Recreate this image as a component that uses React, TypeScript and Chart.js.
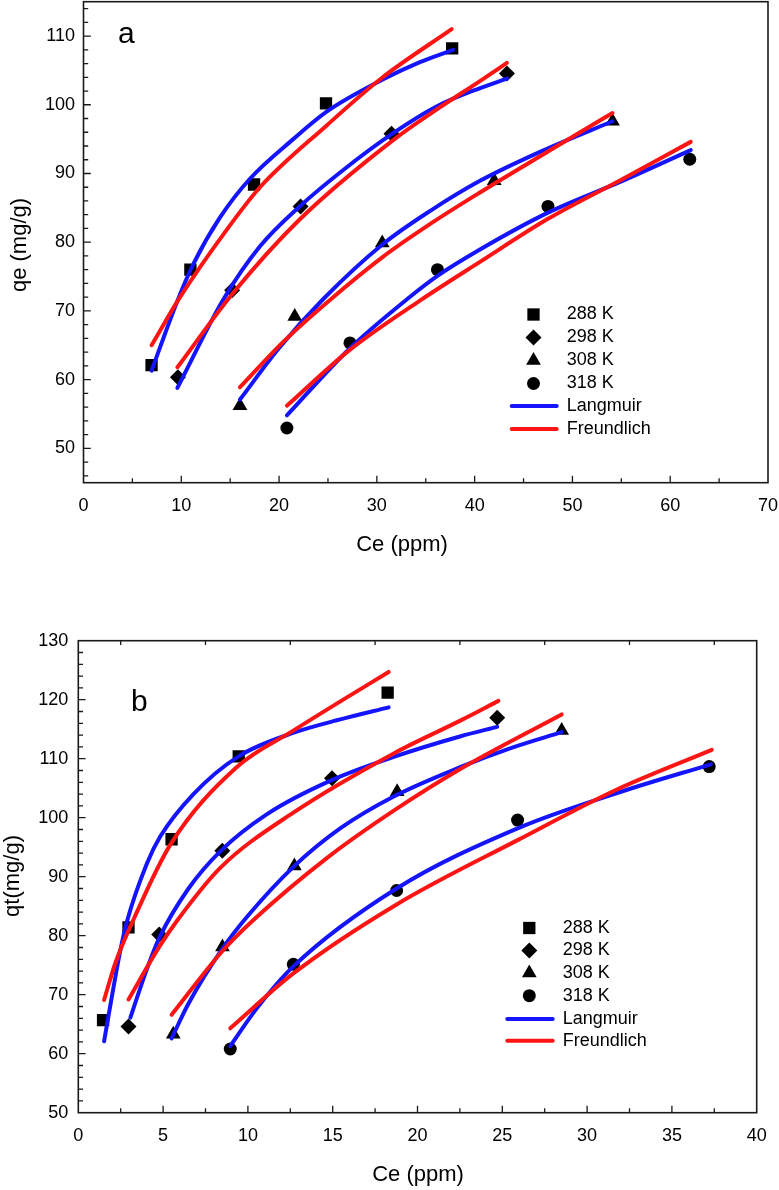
import React, { useEffect, useRef } from 'react';
import { Chart, registerables } from 'chart.js';

Chart.register(...registerables);

const FONT = '"Liberation Sans", Arial, Helvetica, sans-serif';
const BLUE = '#1414ff';
const RED = '#ff1414';

// ---------- shared ----------
const tempLabels = ['288 K', '298 K', '308 K', '318 K'];
const modelLabels = ['Langmuir', 'Freundlich'];
const markerStyles = ['rect', 'rectRot', 'triangle', 'circle'];

// ---------- panel a : qe vs Ce ----------
const aXTicks = [0, 10, 20, 30, 40, 50, 60, 70];
const aYTicks = [50, 60, 70, 80, 90, 100, 110];

const aCe288 = [6.96, 10.93, 17.44, 24.8, 37.7];
const aQe288 = [62.1, 76.0, 88.4, 100.2, 108.2];
const aCe298 = [9.66, 15.2, 22.2, 31.5, 43.3];
const aQe298 = [60.35, 73.0, 85.2, 95.8, 104.55];
const aCe308 = [16.0, 21.6, 30.55, 42.0, 54.1];
const aQe308 = [56.2, 69.2, 79.9, 88.95, 97.6];
const aCe318 = [20.8, 27.25, 36.2, 47.5, 62.0];
const aQe318 = [52.96, 65.34, 76.0, 85.2, 92.07];

const aLangmuir288 = [[6.96, 61.3], [9.53, 71.2], [11.23, 76.8], [13.96, 83.6], [17.0, 89.2], [21.45, 95.0], [24.87, 99.0], [30.65, 103.7], [34.4, 106.2], [37.8, 108.0]];
const aFreundlich288 = [[6.96, 65.0], [9.87, 72.0], [14.64, 81.8], [18.05, 88.0], [24.87, 97.0], [30.5, 103.9], [37.65, 111.0]];
const aLangmuir298 = [[9.6, 58.8], [14.3, 71.66], [18.05, 79.4], [22.1, 85.2], [26.6, 90.55], [31.7, 95.9], [36.1, 99.75], [40.5, 102.4], [43.3, 103.8]];
const aFreundlich298 = [[9.6, 61.8], [15.3, 72.6], [22.1, 83.3], [31.7, 94.9], [36.1, 99.3], [40.5, 103.4], [43.3, 106.1]];
const aLangmuir308 = [[16.0, 57.1], [20.0, 64.6], [24.5, 71.7], [30.6, 79.7], [35.5, 84.6], [40.5, 88.9], [47.4, 93.6], [54.1, 97.6]];
const aFreundlich308 = [[16.0, 58.9], [20.5, 65.6], [25.2, 71.6], [30.55, 77.8], [35.5, 82.7], [40.5, 87.2], [47.5, 93.2], [54.1, 98.8]];
const aLangmuir318 = [[20.8, 54.8], [27.2, 64.5], [33.05, 71.66], [36.2, 75.1], [40.5, 78.9], [47.5, 84.3], [55.0, 88.85], [62.1, 93.4]];
const aFreundlich318 = [[20.8, 56.2], [27.2, 64.3], [34.4, 71.5], [40.5, 77.1], [47.5, 83.4], [55.0, 89.1], [62.1, 94.6]];

// ---------- panel b : qt vs Ce ----------
const bXTicks = [0, 5, 10, 15, 20, 25, 30, 35, 40];
const bYTicks = [50, 60, 70, 80, 90, 100, 110, 120, 130];

const bCe288 = [1.46, 2.96, 5.5, 9.46, 18.24];
const bQt288 = [65.7, 81.4, 96.35, 110.4, 121.2];
const bCe298 = [2.96, 4.77, 8.49, 14.96, 24.7];
const bQt298 = [64.6, 80.2, 94.4, 106.7, 116.95];
const bCe308 = [5.6, 8.5, 12.74, 18.8, 28.5];
const bQt308 = [63.3, 78.1, 91.8, 104.4, 114.8];
const bCe318 = [8.96, 12.68, 18.77, 25.9, 37.2];
const bQt318 = [60.8, 75.15, 87.66, 99.6, 108.66];

const bLangmuir288 = [[1.52, 62.1], [2.0, 70.0], [2.43, 76.8], [2.86, 82.3], [4.04, 92.2], [4.83, 96.8], [6.79, 104.0], [9.45, 110.4], [12.7, 114.4], [15.5, 116.7], [18.3, 118.7]];
const bFreundlich288 = [[1.52, 69.1], [2.2, 75.5], [3.25, 82.7], [5.42, 95.4], [9.35, 108.6], [12.7, 114.8], [15.5, 119.8], [18.3, 124.7]];
const bLangmuir298 = [[3.07, 66.1], [4.0, 74.0], [4.77, 79.6], [6.5, 88.0], [8.37, 94.3], [11.13, 100.6], [14.97, 106.4], [18.6, 110.3], [22.55, 113.8], [24.7, 115.4]];
const bFreundlich298 = [[2.96, 69.2], [4.77, 78.1], [5.81, 82.5], [8.37, 91.5], [12.7, 100.9], [18.6, 110.9], [22.55, 116.5], [24.77, 119.8]];
const bLangmuir308 = [[5.5, 62.6], [6.5, 68.5], [8.5, 77.8], [9.95, 83.2], [12.7, 91.7], [15.5, 98.3], [18.6, 103.6], [22.55, 108.6], [25.5, 111.8], [28.5, 114.5]];
const bFreundlich308 = [[5.5, 66.6], [8.5, 77.4], [10.34, 82.7], [14.67, 93.2], [18.6, 101.2], [22.55, 108.3], [28.5, 117.5]];
const bLangmuir318 = [[8.96, 61.3], [10.5, 67.6], [12.68, 74.8], [18.77, 88.0], [25.9, 98.2], [32.0, 104.4], [37.3, 109.05]];
const bFreundlich318 = [[8.96, 64.3], [12.68, 73.6], [18.77, 85.3], [25.9, 96.2], [31.7, 104.7], [37.35, 111.5]];

// ---------- panel layout settings ----------
const panelA = {
  top: 0, height: 560,
  padding: { left: 0, right: 11, top: 1.7, bottom: 0 },
  yAxisWidth: 83.5, xAxisHeight: 77.3,
  xMin: 0, xMax: 70, xTicks: aXTicks, xMinor: 5,
  yMin: 45, yMax: 115, yTicks: aYTicks, yMinor: 2,
  yLabelPad: 8.5, xLabelPad: 12.5,
  topTicks: false,
  xTitle: 'Ce (ppm)', xTitlePos: [402, 545],
  yTitle: 'qe (mg/g)', yTitlePos: [20, 245],
  letter: 'a', letterPos: [118, 43],
  legend: { markerX: 533.5, textX: 566.7, rows: [314.5, 337.5, 360.5, 383.5, 406, 429], lineX: [511.7, 556.7] },
  points: [[aCe288, aQe288], [aCe298, aQe298], [aCe308, aQe308], [aCe318, aQe318]],
  langmuir: [aLangmuir288, aLangmuir298, aLangmuir308, aLangmuir318],
  freundlich: [aFreundlich288, aFreundlich298, aFreundlich308, aFreundlich318],
};

const panelB = {
  top: 560, height: 630,
  padding: { left: 0, right: 22.3, top: 80.7, bottom: 0 },
  yAxisWidth: 78.3, xAxisHeight: 77.3,
  xMin: 0, xMax: 40, xTicks: bXTicks, xMinor: 2.5,
  yMin: 50, yMax: 130, yTicks: bYTicks, yMinor: 2,
  yLabelPad: 10, xLabelPad: 12.5,
  topTicks: true,
  xTitle: 'Ce (ppm)', xTitlePos: [418, 615],
  yTitle: 'qt(mg/g)', yTitlePos: [13, 316],
  letter: 'b', letterPos: [131, 151],
  legend: { markerX: 529.3, textX: 562.7, rows: [368, 390.5, 413, 435.7, 459, 480.7], lineX: [507.3, 552.7] },
  points: [[bCe288, bQt288], [bCe298, bQt298], [bCe308, bQt308], [bCe318, bQt318]],
  langmuir: [bLangmuir288, bLangmuir298, bLangmuir308, bLangmuir318],
  freundlich: [bFreundlich288, bFreundlich298, bFreundlich308, bFreundlich318],
};

const markerRadius: Record<string, number> = { rect: 8.7, rectRot: 8, triangle: 8.5, circle: 6.5 };

function drawMarker(ctx: CanvasRenderingContext2D, style: string, x: number, y: number) {
  const r = markerRadius[style];
  ctx.beginPath();
  if (style === 'rect') {
    const s = r * Math.SQRT1_2;
    ctx.rect(x - s, y - s, 2 * s, 2 * s);
  } else if (style === 'rectRot') {
    ctx.moveTo(x - r, y);
    ctx.lineTo(x, y - r);
    ctx.lineTo(x + r, y);
    ctx.lineTo(x, y + r);
    ctx.closePath();
  } else if (style === 'triangle') {
    let rad = 0;
    ctx.moveTo(x + Math.sin(rad) * r, y - Math.cos(rad) * r);
    rad += (2 * Math.PI) / 3;
    ctx.lineTo(x + Math.sin(rad) * r, y - Math.cos(rad) * r);
    rad += (2 * Math.PI) / 3;
    ctx.lineTo(x + Math.sin(rad) * r, y - Math.cos(rad) * r);
    ctx.closePath();
  } else {
    ctx.arc(x, y, r, 0, Math.PI * 2);
  }
  ctx.fillStyle = '#000';
  ctx.fill();
}

function tickValues(min: number, max: number, step: number) {
  const out: number[] = [];
  const first = Math.ceil(min / step - 1e-9);
  const last = Math.floor(max / step + 1e-9);
  for (let i = first; i <= last; i++) out.push(+(i * step).toFixed(6));
  return out;
}

function isMultiple(v: number, m: number) {
  return Math.abs(v / m - Math.round(v / m)) < 1e-6;
}

const framePlugin = {
  id: 'frameTicks',
  afterDatasetsDraw(chart: any, _args: any, opts: any) {
    const { ctx, chartArea } = chart;
    const { left, right, top, bottom } = chartArea;
    const xs = chart.scales.x;
    const ys = chart.scales.y;
    const majorX = opts.xTicks[1] - opts.xTicks[0];
    const majorY = opts.yTicks[1] - opts.yTicks[0];
    ctx.save();
    ctx.strokeStyle = '#1a1a1a';
    ctx.lineWidth = 1.3;
    ctx.beginPath();
    tickValues(opts.xMin, opts.xMax, opts.xMinor).forEach((v) => {
      if (v <= opts.xMin || v >= opts.xMax) return;
      const px = xs.getPixelForValue(v);
      const major = isMultiple(v, majorX);
      const len = major ? 7 : 4.5;
      ctx.moveTo(px, bottom);
      ctx.lineTo(px, bottom - len);
      if (opts.topTicks && !major) {
        ctx.moveTo(px, top);
        ctx.lineTo(px, top + 4.3);
      }
    });
    tickValues(opts.yMin, opts.yMax, opts.yMinor).forEach((v) => {
      if (v <= opts.yMin || v >= opts.yMax) return;
      const py = ys.getPixelForValue(v);
      const major = isMultiple(v, majorY);
      const len = major ? 7.3 : 4.7;
      ctx.moveTo(left, py);
      ctx.lineTo(left + len, py);
    });
    ctx.stroke();
    ctx.lineWidth = 1.6;
    ctx.strokeRect(left, top, right - left, bottom - top);
    ctx.restore();
  },
};

const textPlugin = {
  id: 'panelText',
  afterDraw(chart: any, _args: any, opts: any) {
    const { ctx } = chart;
    ctx.save();
    ctx.fillStyle = '#000';
    // axis titles
    ctx.font = `22px ${FONT}`;
    ctx.textAlign = 'center';
    ctx.textBaseline = 'middle';
    ctx.fillText(opts.xTitle, opts.xTitlePos[0], opts.xTitlePos[1]);
    ctx.save();
    ctx.translate(opts.yTitlePos[0], opts.yTitlePos[1]);
    ctx.rotate(-Math.PI / 2);
    ctx.fillText(opts.yTitle, 0, 0);
    ctx.restore();
    // panel letter
    ctx.font = `30px ${FONT}`;
    ctx.textAlign = 'left';
    ctx.textBaseline = 'alphabetic';
    ctx.fillText(opts.letter, opts.letterPos[0], opts.letterPos[1]);
    // legend
    const lg = opts.legend;
    ctx.font = `18px ${FONT}`;
    ctx.textBaseline = 'middle';
    tempLabels.forEach((lab, i) => {
      drawMarker(ctx, markerStyles[i], lg.markerX, lg.rows[i]);
      ctx.fillStyle = '#000';
      ctx.fillText(lab, lg.textX, lg.rows[i]);
    });
    [BLUE, RED].forEach((col, j) => {
      const y = lg.rows[4 + j];
      ctx.beginPath();
      ctx.strokeStyle = col;
      ctx.lineWidth = 4;
      ctx.lineCap = 'round';
      ctx.moveTo(lg.lineX[0], y);
      ctx.lineTo(lg.lineX[1], y);
      ctx.stroke();
      ctx.fillStyle = '#000';
      ctx.fillText(modelLabels[j], lg.textX, y);
    });
    ctx.restore();
  },
};

function buildConfig(p: any): any {
  const datasets: any[] = [];
  p.freundlich.forEach((pts: number[][], i: number) => {
    datasets.push({
      label: `${modelLabels[1]} ${tempLabels[i]}`,
      data: pts.map(([x, y]) => ({ x, y })),
      showLine: true,
      borderColor: RED,
      backgroundColor: RED,
      borderWidth: 4,
      pointRadius: 0,
      cubicInterpolationMode: 'monotone',
      borderCapStyle: 'round',
      order: 0,
    });
  });
  p.langmuir.forEach((pts: number[][], i: number) => {
    datasets.push({
      label: `${modelLabels[0]} ${tempLabels[i]}`,
      data: pts.map(([x, y]) => ({ x, y })),
      showLine: true,
      borderColor: BLUE,
      backgroundColor: BLUE,
      borderWidth: 4,
      pointRadius: 0,
      cubicInterpolationMode: 'monotone',
      borderCapStyle: 'round',
      order: 1,
    });
  });
  p.points.forEach(([xs, ys]: number[][], i: number) => {
    const style = markerStyles[i];
    datasets.push({
      label: tempLabels[i],
      data: xs.map((x: number, k: number) => ({ x, y: ys[k] })),
      showLine: false,
      pointStyle: style,
      pointRadius: markerRadius[style],
      pointHoverRadius: markerRadius[style],
      backgroundColor: '#000',
      borderColor: '#000',
      borderWidth: 0,
      order: 2,
    });
  });

  const tickFont = { family: FONT, size: 18 };
  return {
    type: 'scatter',
    data: { datasets },
    plugins: [framePlugin, textPlugin],
    options: {
      responsive: false,
      animation: false,
      events: [],
      layout: { padding: p.padding, autoPadding: false },
      plugins: {
        legend: { display: false },
        tooltip: { enabled: false },
        frameTicks: p,
        panelText: p,
      },
      scales: {
        x: {
          type: 'linear',
          min: p.xMin,
          max: p.xMax,
          grid: { display: false, drawTicks: false, tickLength: 0 },
          border: { display: false },
          ticks: { color: '#000', font: tickFont, padding: p.xLabelPad, maxRotation: 0, autoSkip: false },
          afterBuildTicks: (s: any) => { s.ticks = p.xTicks.map((v: number) => ({ value: v })); },
          afterFit: (s: any) => {
            s.height = p.xAxisHeight;
            s.paddingLeft = 0; s.paddingRight = 0; s.paddingTop = 0; s.paddingBottom = 0;
          },
        },
        y: {
          type: 'linear',
          min: p.yMin,
          max: p.yMax,
          grid: { display: false, drawTicks: false, tickLength: 0 },
          border: { display: false },
          ticks: { color: '#000', font: tickFont, padding: p.yLabelPad, autoSkip: false },
          afterBuildTicks: (s: any) => { s.ticks = p.yTicks.map((v: number) => ({ value: v })); },
          afterFit: (s: any) => {
            s.width = p.yAxisWidth;
            s.paddingLeft = 0; s.paddingRight = 0; s.paddingTop = 0; s.paddingBottom = 0;
          },
        },
      },
    },
  };
}

function Panel({ p }: { p: any }) {
  const ref = useRef<HTMLCanvasElement | null>(null);
  useEffect(() => {
    const chart = new Chart(ref.current as HTMLCanvasElement, buildConfig(p));
    return () => chart.destroy();
  }, [p]);
  return (
    <canvas
      ref={ref}
      width={779}
      height={p.height}
      style={{ position: 'absolute', left: 0, top: p.top, width: 779, height: p.height }}
    />
  );
}

export default function App() {
  return (
    <div style={{ position: 'absolute', left: 0, top: 0, width: 779, height: 1190, background: '#fff', overflow: 'hidden' }}>
      <Panel p={panelA} />
      <Panel p={panelB} />
    </div>
  );
}
